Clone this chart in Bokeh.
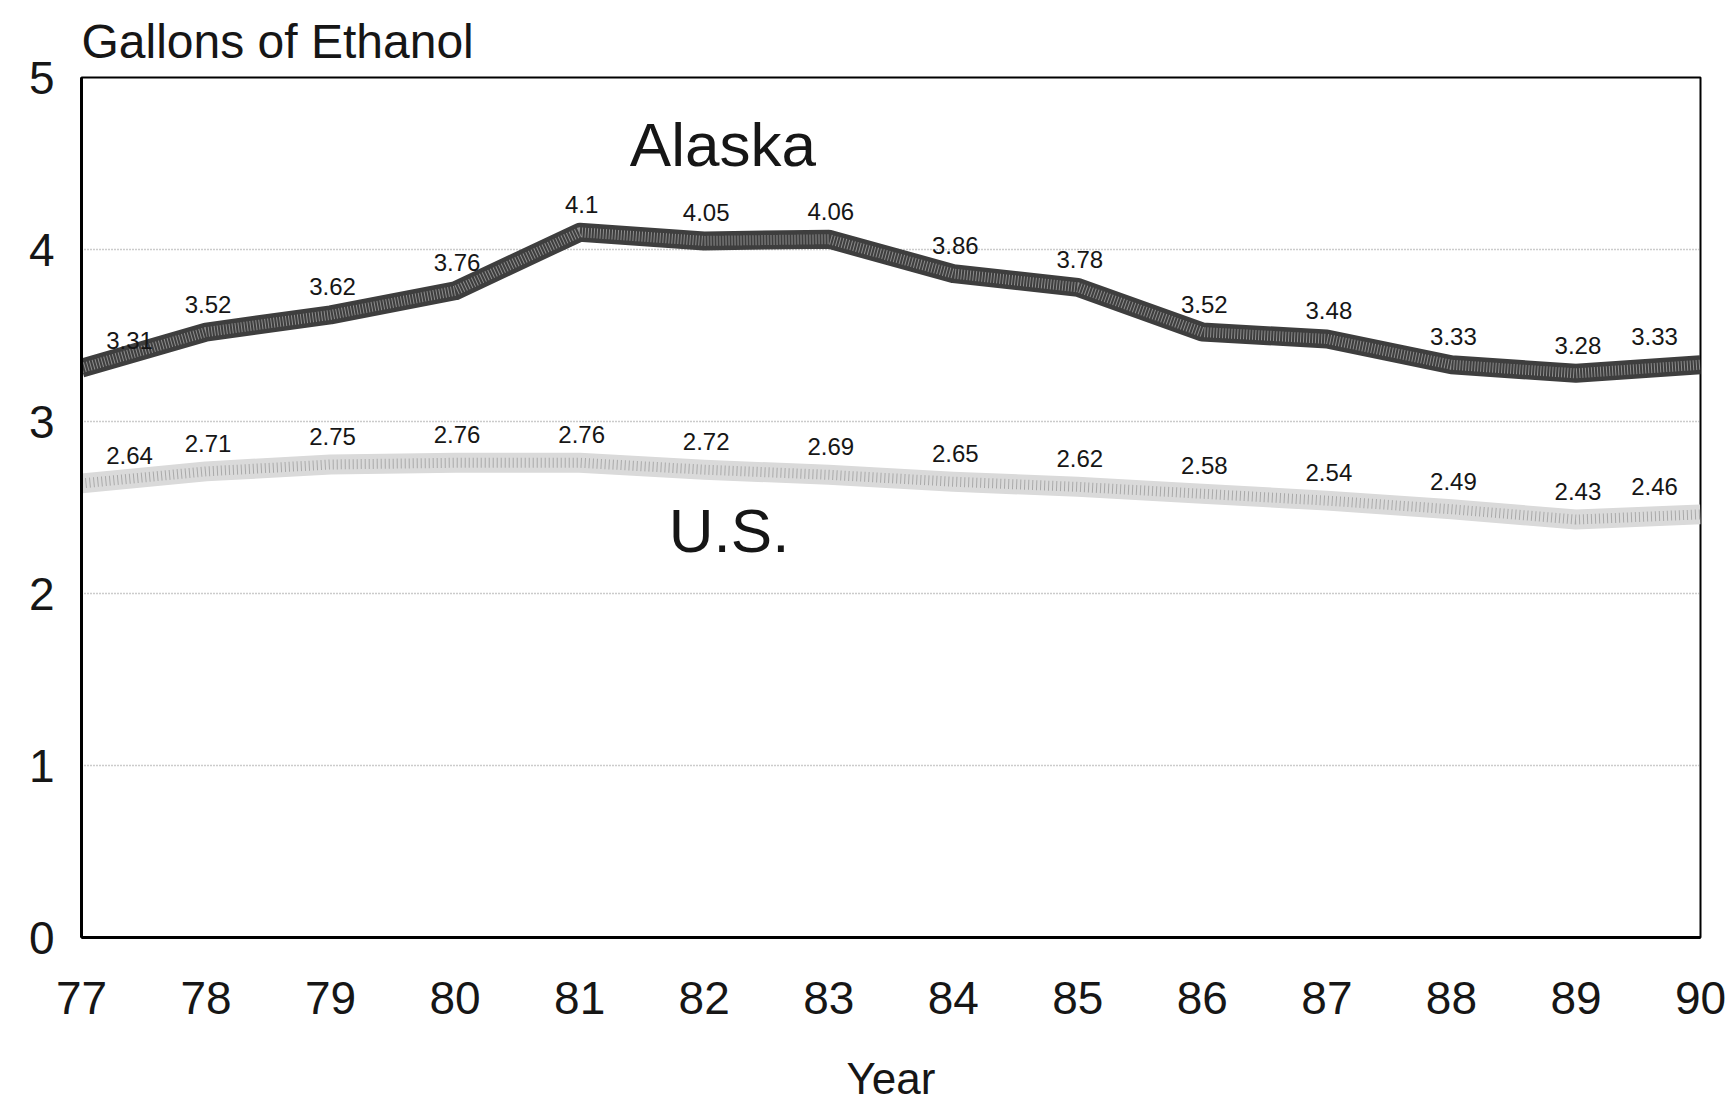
from bokeh.plotting import figure
from bokeh.models import Range1d, FixedTicker, ColumnDataSource, LabelSet
from bokeh.core.properties import value
from bokeh.embed import file_html
from bokeh.resources import INLINE

# Per-capita ethanol consumption, 1977-1990
years = [77, 78, 79, 80, 81, 82, 83, 84, 85, 86, 87, 88, 89, 90]
alaska = [3.31, 3.52, 3.62, 3.76, 4.1, 4.05, 4.06, 3.86, 3.78, 3.52, 3.48, 3.33, 3.28, 3.33]
us = [2.64, 2.71, 2.75, 2.76, 2.76, 2.72, 2.69, 2.65, 2.62, 2.58, 2.54, 2.49, 2.43, 2.46]
y_ticks = [0, 1, 2, 3, 4, 5]

FONT = "Liberation Sans"
INK = "#161616"

p = figure(width=1733, height=1106, output_backend="svg", toolbar_location=None,
           x_range=Range1d(77, 90), y_range=Range1d(0, 5),
           min_border_left=81, min_border_right=33, min_border_top=77,
           min_border_bottom=169, background_fill_color="white",
           border_fill_color="white")

p.title.text = "Gallons of Ethanol"
p.title.text_font = FONT
p.title.text_font_size = "48px"
p.title.text_font_style = "normal"
p.title.text_color = INK
p.title.text_line_height = 0.8
p.title.standoff = 20
p.title.offset = 0

p.outline_line_color = "black"
p.outline_line_width = 2

p.xgrid.visible = False
p.ygrid.ticker = FixedTicker(ticks=y_ticks)
p.ygrid.grid_line_color = "#777777"
p.ygrid.grid_line_dash = "1 2"
p.ygrid.grid_line_width = 1.5
p.ygrid.grid_line_alpha = 0.75

for ax in (p.xaxis[0], p.yaxis[0]):
    ax.major_tick_out = 0
    ax.major_tick_in = 0
    ax.minor_tick_out = 0
    ax.minor_tick_in = 0
    ax.axis_line_width = 3
    ax.axis_line_color = "black"
    ax.major_label_text_font = FONT
    ax.major_label_text_font_size = "46px"
    ax.major_label_text_color = INK

p.yaxis.ticker = FixedTicker(ticks=y_ticks)
p.yaxis.major_label_standoff = 27
p.xaxis.ticker = FixedTicker(ticks=years)
p.xaxis.major_label_standoff = 44
p.xaxis.axis_label = "Year"
p.xaxis.axis_label_text_font = FONT
p.xaxis.axis_label_text_font_size = "44px"
p.xaxis.axis_label_text_font_style = "normal"
p.xaxis.axis_label_text_color = INK
p.xaxis.axis_label_standoff = 37

# U.S. series: pale wide band with a stippled core
p.line(years, us, line_color="#dadada", line_width=20, line_join="round")
p.line(years, us, line_color="#a9a9a9", line_width=10, line_dash="1 3", line_join="round")

# Alaska series: dark band with a lighter stippled core
p.line(years, alaska, line_color="#3e3e3e", line_width=19, line_join="round")
p.line(years, alaska, line_color="#8e8e8e", line_width=10, line_dash="1 2", line_join="round")

# Value labels above each point; the end labels are nudged inside the frame
n = len(years)
x_off = [48 if i == 0 else (-46 if i == n - 1 else 2) for i in range(n)]
for series in (alaska, us):
    src = ColumnDataSource(dict(x=years, y=series, t=[f"{v:g}" for v in series], dx=x_off))
    p.add_layout(LabelSet(x="x", y="y", text="t", source=src, x_offset="dx", y_offset=28,
                          text_align="center", text_baseline="middle",
                          text_font=value(FONT), text_font_size="24px", text_color=INK))

# Series names
p.text(x=[82.15, 82.2], y=[4.61, 2.365], text=["Alaska", "U.S."],
       text_font=value(FONT), text_font_size="62px", text_color=INK,
       text_align="center", text_baseline="middle")

open("out.html", "w").write(file_html(p, INLINE))
